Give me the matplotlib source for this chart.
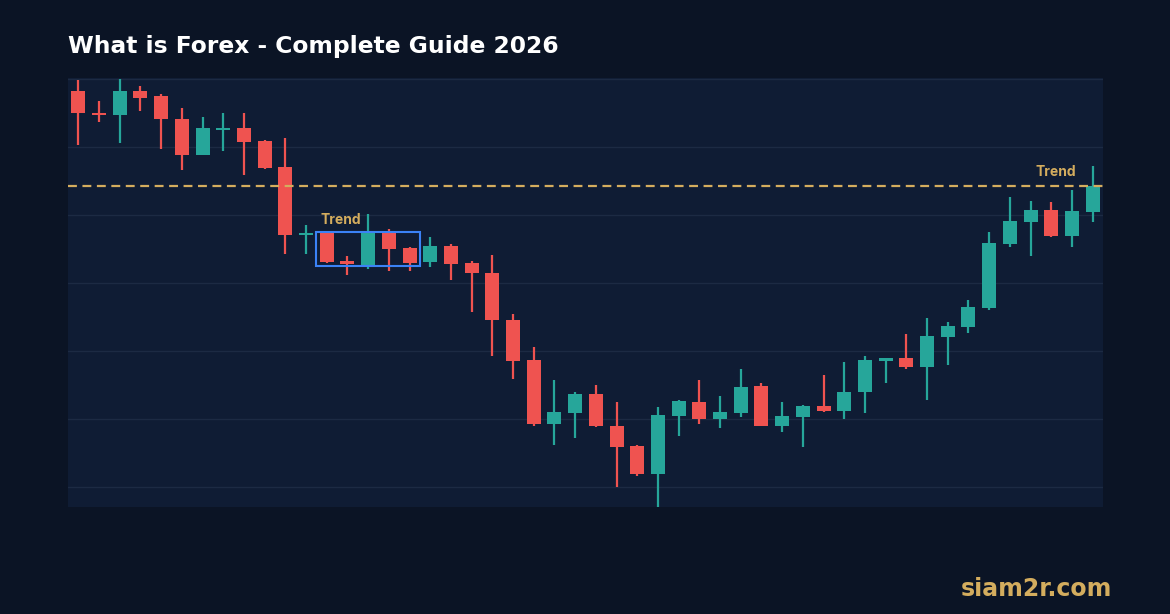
import matplotlib.pyplot as plt
import matplotlib.patches as patches
import numpy as np

# OHLC values (arbitrary price units)
opens = [158.3, 155.1, 154.8, 158.3, 157.5, 154.2, 148.9, 152.5, 152.8, 150.9,
         147.1, 137.1, 137.4, 133.2, 132.6, 137.4, 135.1, 133.1, 135.5, 132.9,
         131.5, 124.6, 118.6, 109.3, 110.9, 113.6, 109.0, 106.0, 101.8, 110.4,
         112.5, 109.9, 110.8, 114.8, 109.0, 110.3, 111.9, 111.2, 113.9, 118.5,
         118.9, 117.6, 122.1, 123.5, 126.3, 135.8, 139.0, 140.7, 136.9, 140.5]
highs = [159.9, 156.8, 160.1, 159.0, 157.9, 155.8, 154.4, 155.1, 155.1, 151.1,
         151.4, 138.5, 137.7, 134.0, 140.1, 137.9, 135.3, 136.8, 135.8, 133.2,
         134.1, 125.4, 120.6, 115.7, 114.0, 115.0, 112.5, 106.1, 111.7, 112.8,
         115.7, 113.3, 117.4, 115.3, 112.5, 112.1, 116.5, 118.4, 119.3, 119.0,
         122.5, 124.8, 124.2, 127.5, 137.5, 142.7, 142.1, 142.0, 143.7, 147.3]
lows = [150.4, 153.7, 150.6, 155.4, 149.7, 146.6, 148.8, 149.5, 145.9, 146.8,
        134.2, 134.3, 133.0, 131.2, 132.0, 131.7, 131.7, 132.4, 130.5, 125.8,
        119.3, 115.8, 108.9, 106.1, 107.1, 108.8, 99.9, 101.5, 97.0, 107.5,
        109.3, 108.6, 110.3, 108.9, 108.1, 105.9, 111.0, 110.0, 110.8, 115.3,
        117.3, 112.7, 117.9, 122.6, 126.0, 135.3, 134.0, 136.8, 135.3, 139.0]
closes = [155.0, 154.8, 158.3, 157.3, 154.2, 148.8, 152.8, 152.8, 150.7, 147.0,
          137.0, 137.4, 133.1, 132.8, 137.3, 135.0, 133.0, 135.5, 132.8, 131.4,
          124.5, 118.5, 109.3, 111.0, 113.6, 108.9, 105.8, 101.8, 110.6, 112.6,
          109.9, 111.0, 114.7, 109.0, 110.4, 111.9, 111.1, 114.0, 118.7, 118.9,
          117.6, 122.2, 123.6, 126.5, 135.9, 139.1, 140.7, 136.9, 140.6, 144.3]

trend_level = 144.3
box_first, box_last = 12, 16
box_low, box_high = 132.5, 137.5
grid_levels = [100, 110, 120, 130, 140, 150, 160]

UP = '#26a69a'
DOWN = '#ef5350'
GOLD = '#d4ad5e'

fig = plt.figure(figsize=(11.7, 6.14), dpi=100, facecolor='#0b1425')
ax = fig.add_axes([68 / 1170, 107 / 614, 1035 / 1170, 429 / 614])
ax.set_facecolor('#0f1c34')

for g in grid_levels:
    ax.axhline(g, color='#1c2a43', linewidth=1, zorder=0)

o = np.array(opens)
c = np.array(closes)
x = np.arange(len(o))
colors = [UP if cc >= oo else DOWN for oo, cc in zip(o, c)]

ax.vlines(x, lows, highs, colors=colors, linewidth=1.6, zorder=2)
bottoms = np.minimum(o, c)
heights = np.maximum(np.abs(c - o), 0.3)
ax.bar(x, heights, bottom=bottoms, width=0.68, color=colors, zorder=3)

# dashed trend line
ax.axhline(trend_level, color=GOLD, linewidth=1.6, linestyle=(0, (4, 2.5)), zorder=4)
ax.text(48.2, trend_level + 1.0, 'Trend', color=GOLD, fontsize=10,
        fontweight='bold', ha='right', va='bottom', family=['Inter', 'DejaVu Sans'])

# consolidation box
rect = patches.Rectangle((box_first - 0.5, box_low), box_last - box_first + 1,
                         box_high - box_low, fill=False, edgecolor='#3b82f6',
                         linewidth=1.5, zorder=5)
ax.add_patch(rect)
ax.text(box_first - 0.3, box_high + 0.7, 'Trend', color=GOLD, fontsize=10,
        fontweight='bold', ha='left', va='bottom', family=['Inter', 'DejaVu Sans'])

ax.set_xlim(-0.5, len(o) - 0.5)
ax.set_ylim(97.0, 160.2)
ax.set_xticks([])
ax.set_yticks([])
for s in ax.spines.values():
    s.set_visible(False)

fig.text(68 / 1170, 1 - 46 / 614, 'What is Forex - Complete Guide 2026', color='white',
         fontsize=16.85, fontweight='bold', ha='left', va='center',
         family=['DejaVu Sans'])
fig.text(1112 / 1170, 1 - 589 / 614, 'siam2r.com', color=GOLD, fontsize=17,
         fontweight='bold', ha='right', va='center', family=['DejaVu Sans'])

fig.savefig('out.png', dpi=100, facecolor=fig.get_facecolor())
